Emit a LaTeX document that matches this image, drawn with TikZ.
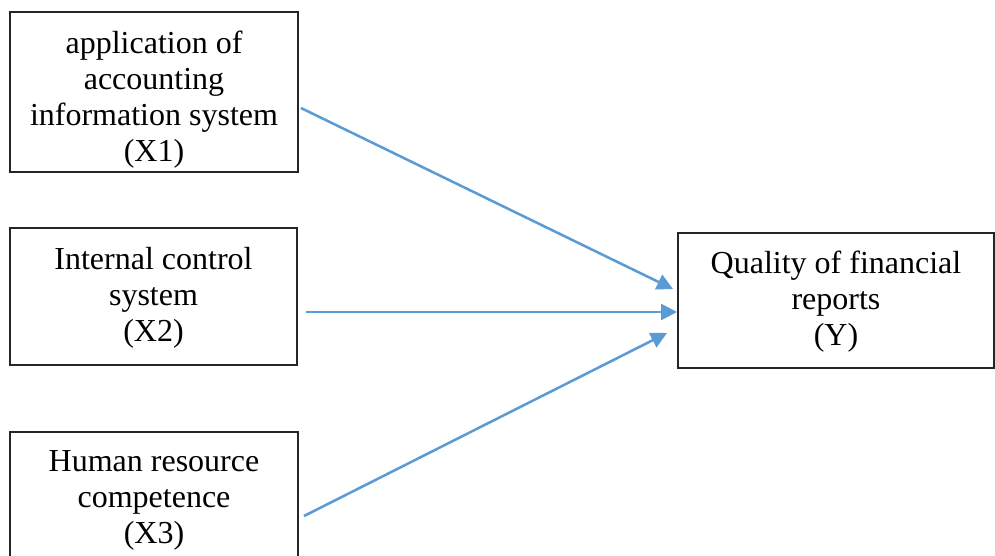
\documentclass[tikz,border=0pt]{standalone}
\usepackage{fontspec}
\setmainfont{Liberation Serif}
\usetikzlibrary{arrows.meta}
\definecolor{arrowblue}{RGB}{91,155,213}
\begin{document}
\begin{tikzpicture}[x=0.75pt,y=-0.75pt,
  box/.style={draw=black!85, line width=1pt, rectangle, inner sep=0pt},
  txt/.style={align=center, inner sep=0pt, font=\fontsize{24}{27}\selectfont},
  link/.style={draw=arrowblue, line width=1.9pt, -{Triangle[length=12pt,width=12pt]}}]
\useasboundingbox (0,0) rectangle (995,556);
\node[box, minimum width=288*0.75pt, minimum height=160*0.75pt] (x1) at (154,92) {};
\node[txt] (x1t) at (154,100) {application of\\accounting\\information system\\(X1)};
\node[box, minimum width=287*0.75pt, minimum height=137*0.75pt] (x2) at (153.5,296.5) {};
\node[txt] (x2t) at (153.5,298) {Internal control\\system\\(X2)};
\node[box, minimum width=288*0.75pt, minimum height=140*0.75pt] (x3) at (154,502) {};
\node[txt] (x3t) at (154,500) {Human resource\\competence\\(X3)};
\node[box, minimum width=316*0.75pt, minimum height=135*0.75pt] (y) at (836,300.5) {};
\node[txt] (yt) at (836,302) {Quality of financial\\reports\\(Y)};
\coordinate (s1) at (301,108);
\coordinate (e1) at (673,289);
\coordinate (s2) at (306,312);
\coordinate (e2) at (677,312);
\coordinate (s3) at (304,516);
\coordinate (e3) at (667,333);
\draw[link] (s1) -- (e1);
\draw[link] (s2) -- (e2);
\draw[link] (s3) -- (e3);
\end{tikzpicture}
\end{document}
